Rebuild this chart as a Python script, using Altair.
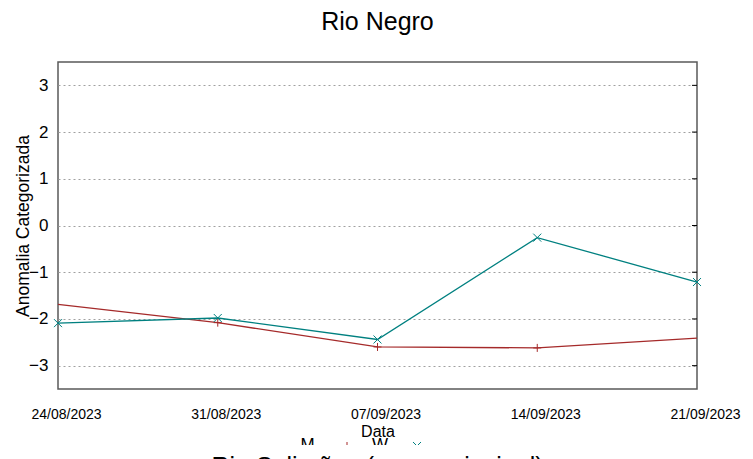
import altair as alt
import pandas as pd

DATES = ["24/08/2023", "31/08/2023", "07/09/2023", "14/09/2023", "21/09/2023"]
SERIES = ["M", "W"]
M_VALUES = [-1.69, -2.08, -2.60, -2.62, -2.41]
W_VALUES = [-2.09, -1.98, -2.44, -0.26, -1.21]
Y_TICKS = [-3, -2, -1, 0, 1, 2, 3]
COLORS = ["#a52a2a", "#008080"]
TITLE = "Rio Negro"
CAPTION = "Rio Solimões (curso principal)"
X_TITLE = "Data"
Y_TITLE = "Anomalia Categorizada"

rows = []
for s, vals in zip(SERIES, [M_VALUES, W_VALUES]):
    for i, (d, v) in enumerate(zip(DATES, vals)):
        rows.append({"date": d, "value": v, "series": s, "i": i})
df = pd.DataFrame(rows)

W = 639
H = 327
PLUS = "M-1,0L1,0M0,-1L0,1"
CROSS = "M-1,-1L1,1M-1,1L1,-1"
SANS = "Liberation Sans, Arial, sans-serif"

x_enc = alt.X(
    "date:O", sort=DATES, scale=alt.Scale(type="point", padding=0),
    axis=alt.Axis(title=X_TITLE, labelAngle=0, ticks=False, tickSize=0, domain=False, grid=False,
                  labelFont=SANS, labelFontSize=14, labelColor="#000", labelPadding=29,
                  labelBaseline="alphabetic", labelOffset=8, labelFlush=False, labelOverlap=False,
                  titleFont=SANS, titleFontSize=16, titleFontWeight="normal",
                  titleBaseline="alphabetic", titleY=47, titleColor="#000"))
y_enc = alt.Y(
    "value:Q", scale=alt.Scale(domain=[-3.5, 3.5], nice=False, zero=False),
    axis=alt.Axis(values=Y_TICKS, title=Y_TITLE, ticks=False, tickSize=0, domain=False, grid=True,
                  gridColor="#a0a0a0", gridDash=[2, 3], gridWidth=1, format="d",
                  labelFont=SANS, labelFontSize=17, labelPadding=10, labelColor="#000",
                  titleFont=SANS, titleFontSize=17.5, titleFontWeight="normal", titleAngle=270,
                  titleBaseline="alphabetic", titleX=-30, titleY=H / 2, titleColor="#000"))

base = alt.Chart(df).encode(
    x=x_enc, y=y_enc,
    color=alt.Color("series:N", scale=alt.Scale(domain=SERIES, range=COLORS), legend=None))
lines = base.mark_line(strokeWidth=1.3)
points = base.mark_point(filled=False, size=64, strokeWidth=1, opacity=1).encode(
    shape=alt.Shape("series:N", scale=alt.Scale(domain=SERIES, range=[PLUS, CROSS]), legend=None)
).transform_filter("datum.series == 'W' || (datum.i > 0 && datum.i < 4)")

ticks = alt.Chart(pd.DataFrame({"value": Y_TICKS})).mark_rule(color="#000", strokeWidth=1).encode(
    y=alt.Y("value:Q"), x=alt.value(W - 5), x2=alt.value(W))

def text_layer(txt, x, y, size, font=SANS):
    return alt.Chart(pd.DataFrame({"label": [txt]})).mark_text(
        font=font, fontSize=size, baseline="alphabetic", align="center", color="#000"
    ).encode(text="label:N", x=alt.value(x), y=alt.value(y))

def marker_layer(shape, color, x, y):
    return alt.Chart(pd.DataFrame({"k": [0]})).mark_point(
        shape=shape, filled=False, size=64, strokeWidth=1, color=color, opacity=1
    ).encode(x=alt.value(x), y=alt.value(y))

title_t = text_layer(TITLE, W / 2, -32, 25)
leg_m = text_layer(SERIES[0], 249.5, 388, 17)
leg_m_pt = marker_layer(PLUS, COLORS[0], 289, 384)
leg_w = text_layer(SERIES[1], 322, 388, 17)
leg_w_pt = marker_layer(CROSS, COLORS[1], 359, 384)
cover = alt.Chart(pd.DataFrame({"k": [0]})).mark_rect(color="white").encode(
    x=alt.value(-58), x2=alt.value(700), y=alt.value(383), y2=alt.value(480))
caption = text_layer(CAPTION, W / 2, 413, 25)

chart = alt.layer(
    lines, points, ticks, title_t, leg_m, leg_m_pt, leg_w, leg_w_pt, cover, caption
).properties(
    width=W, height=H,
    padding={"left": 50, "top": 54, "right": 48, "bottom": 110},
    autosize=alt.AutoSizeParams(type="none"),
).configure_view(stroke="#5a5a5a", strokeWidth=1.5)

chart.save("out.html", embed_options={"renderer": "svg", "actions": False})
